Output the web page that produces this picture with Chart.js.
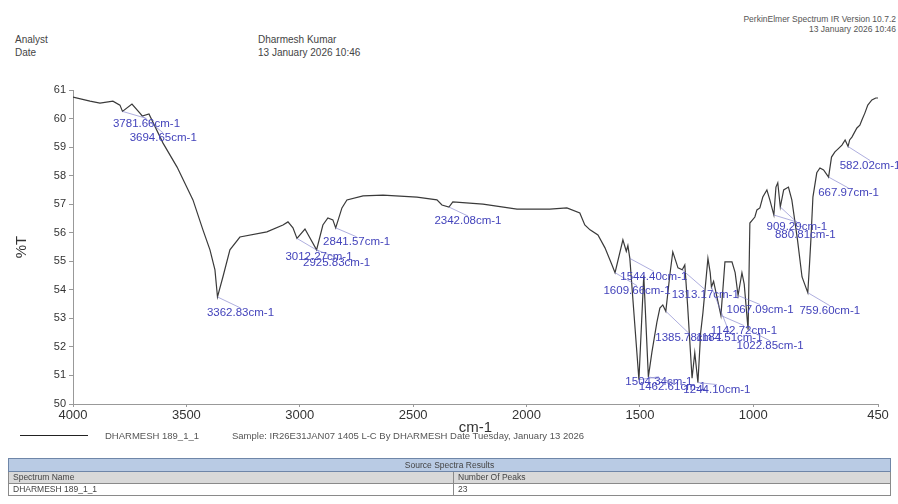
<!DOCTYPE html>
<html>
<head>
<meta charset="utf-8">
<script src="https://cdn.jsdelivr.net/npm/chart.js@4.4.1/dist/chart.umd.min.js"></script>
<style>
  html, body { margin: 0; padding: 0; background: #fff; }
  body { width: 898px; height: 504px; position: relative; overflow: hidden;
         font-family: "Liberation Sans", Arial, sans-serif; color: #333; }
  #ir { position: absolute; left: 0; top: 0; }
  .t { position: absolute; white-space: nowrap; line-height: 1; }
  .hdr { font-size: 10px; color: #444; }
  .sw { font-size: 8.5px; color: #555; right: 2px; text-align: right; }
  .leg { font-size: 9.5px; color: #555; top: 431px; }
  #legline { position: absolute; left: 20px; top: 435px; width: 68px; height: 0;
             border-top: 1.5px solid #222; }
  table { position: absolute; left: 8px; top: 458px; width: 883px;
          border-collapse: collapse; font-size: 8.5px; color: #444; }
  td { border: 1px solid #8a8a8a; padding: 0 4px; height: 11px; line-height: 11px; }
  tr.head td { background: #b9cbe4; text-align: center; border-color: #6f86a8; height: 12px; }
  tr.cols td { background: #d9d9d9; }
</style>
</head>
<body>
<div class="t hdr" style="left:15px;top:35px">Analyst</div>
<div class="t hdr" style="left:15px;top:48px">Date</div>
<div class="t hdr" style="left:258px;top:35px">Dharmesh Kumar</div>
<div class="t hdr" style="left:258px;top:48px">13 January 2026 10:46</div>
<div class="t sw" style="top:15px">PerkinElmer Spectrum IR Version 10.7.2</div>
<div class="t sw" style="top:25px">13 January 2026 10:46</div>

<canvas id="ir" width="898" height="504"></canvas>

<div id="legline"></div>
<div class="t leg" style="left:105px">DHARMESH 189_1_1</div>
<div class="t leg" style="left:232px">Sample: IR26E31JAN07 1405 L-C By DHARMESH Date Tuesday, January 13 2026</div>

<table>
  <tr class="head"><td colspan="2">Source Spectra Results</td></tr>
  <tr class="cols"><td style="width:436px">Spectrum Name</td><td>Number Of Peaks</td></tr>
  <tr><td>DHARMESH 189_1_1</td><td>23</td></tr>
</table>

<script>
// spectrum trace: wavenumber (cm-1) and %T
const WAVENUMBER = [
  4000, 3925, 3881, 3824, 3793, 3781.66, 3740, 3705, 3694.65, 3665,
  3603, 3541, 3471, 3427, 3396, 3374, 3362.83, 3339, 3308, 3264,
  3145, 3074, 3052, 3030, 3012.27, 2977, 2925.83, 2898, 2876, 2854,
  2841.57, 2814, 2792, 2721, 2633, 2483, 2395, 2373, 2342.08, 2325,
  2192, 2042, 1897, 1822, 1765, 1743, 1720, 1685, 1654, 1623,
  1609.66, 1575, 1560, 1553, 1544.40, 1504.34, 1483, 1462.61, 1447, 1425,
  1412, 1399, 1385.78, 1368, 1355, 1332, 1313.17, 1302, 1290, 1270,
  1258, 1244.10, 1232, 1222, 1200, 1190, 1184.51, 1175, 1142.72, 1125,
  1094, 1080, 1067.09, 1050, 1040, 1022.85, 1015, 993, 984, 971,
  958, 940, 927, 909.29, 900, 892, 880.81, 866, 845, 830,
  805, 785, 759.60, 752, 746, 737, 720, 706, 690, 667.97,
  655, 640, 627, 609, 595, 582.02, 575, 565, 543, 530,
  521, 508, 495, 477, 460, 450
];
const TRANSMITTANCE = [
  60.75, 60.61, 60.54, 60.61, 60.47, 60.25, 60.51, 60.19, 60.09, 60.16,
  59.14, 58.30, 57.15, 56.10, 55.40, 54.70, 53.75, 54.45, 55.40, 55.85,
  56.03, 56.27, 56.38, 56.17, 55.80, 56.13, 55.40, 56.27, 56.52, 56.45,
  56.17, 56.87, 57.15, 57.29, 57.32, 57.25, 57.15, 56.97, 56.90, 57.08,
  57.00, 56.83, 56.83, 56.87, 56.69, 56.27, 56.10, 55.92, 55.47, 54.87,
  54.60, 55.75, 55.35, 55.55, 55.10, 50.85, 54.50, 50.95, 51.82, 52.87,
  53.36, 53.47, 53.25, 54.52, 55.33, 54.77, 54.70, 54.87, 53.50, 50.90,
  51.80, 50.75, 52.50, 53.20, 55.10, 54.60, 54.10, 54.30, 53.10, 54.98,
  54.98, 54.60, 53.80, 54.60, 54.20, 52.60, 56.34, 56.55, 56.80, 56.87,
  57.25, 57.50, 57.15, 56.62, 57.60, 57.75, 56.90, 57.50, 57.60, 57.15,
  55.75, 54.45, 53.90, 54.90, 55.75, 57.25, 58.10, 58.27, 58.20, 57.95,
  58.65, 58.83, 58.93, 59.07, 59.25, 59.02, 59.25, 59.35, 59.67, 59.77,
  59.95, 60.19, 60.47, 60.65, 60.72, 60.72
];

// picked peaks (23)
const PEAK_WN = [
  3781.66, 3694.65, 3362.83, 3012.27, 2925.83, 2841.57, 2342.08, 1609.66,
  1544.40, 1504.34, 1462.61, 1385.78, 1313.17, 1244.10, 1184.51, 1142.72,
  1067.09, 1022.85, 909.29, 880.81, 759.60, 667.97, 582.02
];
const PEAK_T = [
  60.25, 60.09, 53.75, 55.80, 55.40, 56.17, 56.90, 54.60,
  55.10, 50.85, 50.95, 53.25, 54.70, 50.75, 54.10, 53.10,
  53.80, 52.60, 56.62, 56.90, 53.90, 57.95, 59.02
];

const X_TICKS = [4000, 3500, 3000, 2500, 2000, 1500, 1000, 450];
const Y_TICKS = [50, 51, 52, 53, 54, 55, 56, 57, 58, 59, 60, 61];

// where each peak label sits, relative to its peak (px)
const LABEL_OFFSET = [
  [24, 12], [21, 22], [23, 16], [22, 18], [20, 13], [21, 14], [19, 14], [22, 18],
  [24, 18], [20, 2], [24, 10], [23, 27], [23, 25], [19, 7], [18, 51], [23, 15],
  [22, 14], [22, 16], [23, 12], [25, 28], [22, 18], [20, 16], [22, 19]
];

const FONT = '"Liberation Sans", Arial, sans-serif';

const peakLabels = {
  id: 'peakLabels',
  afterDatasetsDraw(chart) {
    const { ctx, scales: { x, y } } = chart;
    ctx.save();
    ctx.font = '11.5px ' + FONT;
    ctx.textAlign = 'center';
    ctx.textBaseline = 'middle';
    PEAK_WN.forEach((wn, i) => {
      const px = x.getPixelForValue(wn);
      const py = y.getPixelForValue(PEAK_T[i]);
      const lx = px + LABEL_OFFSET[i][0];
      const ly = py + LABEL_OFFSET[i][1];
      ctx.strokeStyle = 'rgba(120,120,200,0.6)';
      ctx.lineWidth = 1;
      ctx.beginPath();
      ctx.moveTo(px, py);
      ctx.lineTo(lx, ly - 5);
      ctx.stroke();
      ctx.fillStyle = '#4343bb';
      ctx.fillText(wn.toFixed(2) + 'cm-1', lx, ly);
    });
    ctx.restore();
  }
};

new Chart(document.getElementById('ir'), {
  type: 'line',
  data: {
    datasets: [{
      label: 'DHARMESH 189_1_1',
      data: WAVENUMBER.map((w, i) => ({ x: w, y: TRANSMITTANCE[i] })),
      borderColor: '#3a3a3a',
      borderWidth: 1.2,
      pointRadius: 0,
      tension: 0,
      fill: false
    }]
  },
  options: {
    responsive: false,
    animation: false,
    devicePixelRatio: 1,
    layout: { padding: { top: 90, right: 20, bottom: 67, left: 0 } },
    plugins: { legend: { display: false }, tooltip: { enabled: false } },
    scales: {
      x: {
        type: 'linear',
        reverse: true,
        min: 450,
        max: 4000,
        afterBuildTicks: s => { s.ticks = X_TICKS.map(v => ({ value: v })); },
        afterFit: s => { s.height = 33; },
        ticks: { color: '#333', font: { size: 13, family: FONT }, padding: 1, maxRotation: 0, autoSkip: false,
                 callback: v => String(v) },
        grid: { drawOnChartArea: false, tickLength: 3, color: '#999' },
        border: { color: '#999' },
        title: { display: true, text: 'cm-1', color: '#333', font: { size: 15, family: FONT }, padding: { top: 4, bottom: 0 } }
      },
      y: {
        min: 50,
        max: 61,
        afterBuildTicks: s => { s.ticks = Y_TICKS.map(v => ({ value: v })); },
        afterFit: s => { s.width = 73; },
        ticks: { color: '#333', font: { size: 11, family: FONT }, padding: 3 },
        grid: { drawOnChartArea: false, tickLength: 4, color: '#999' },
        border: { color: '#999' },
        title: { display: true, text: '%T', color: '#333', font: { size: 15, family: FONT }, padding: { top: 13, bottom: 0 } }
      }
    }
  },
  plugins: [peakLabels]
});
</script>
</body>
</html>
